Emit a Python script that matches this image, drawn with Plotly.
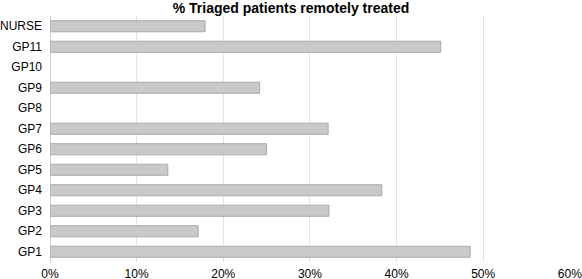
import plotly.graph_objects as go

categories = ["GP1", "GP2", "GP3", "GP4", "GP5", "GP6", "GP7", "GP8", "GP9", "GP10", "GP11", "NURSE"]
values = [0.485, 0.171, 0.322, 0.383, 0.136, 0.250, 0.321, None, 0.242, None, 0.451, 0.179]
tick_vals = [0, 0.1, 0.2, 0.3, 0.4, 0.5, 0.6]
tick_text = ["0%", "10%", "20%", "30%", "40%", "50%", "60%"]

fig = go.Figure(go.Bar(
    x=values, y=categories, orientation="h",
    width=0.54,
    marker=dict(color="#c9c9c9", line=dict(color="#a9a9a9", width=1)),
))

fig.update_layout(
    width=582, height=279,
    margin=dict(l=50, r=12, t=16, b=17, autoexpand=False),
    paper_bgcolor="white", plot_bgcolor="white",
    font=dict(family="Liberation Sans, Arial, sans-serif", size=12, color="#000"),
    title=dict(text="<b>% Triaged patients remotely treated</b>", x=0.5, xanchor="center",
               xref="container", yref="container", y=1 - 8.5 / 279, yanchor="middle",
               font=dict(size=14, color="#000")),
    showlegend=False,
)
fig.update_xaxes(range=[0, 0.6002], tickvals=tick_vals, ticktext=tick_text,
                 showgrid=True, gridcolor="#e3e3e3", gridwidth=1,
                 zeroline=True, zerolinecolor="#d0d0d0", zerolinewidth=1,
                 showline=False, ticks="", tickfont=dict(size=12), automargin=False,
                 ticklabelstandoff=3, ticklabeloverflow="allow")
fig.update_yaxes(categoryorder="array", categoryarray=categories,
                 showgrid=False, ticks="", ticklabelstandoff=7, tickfont=dict(size=12),
                 showline=False, automargin=False, ticklabeloverflow="allow")

fig.write_html("out.html", config={"displayModeBar": False},
               post_script="document.body.style.margin='0';document.body.style.padding='0';document.body.style.overflow='hidden';")
